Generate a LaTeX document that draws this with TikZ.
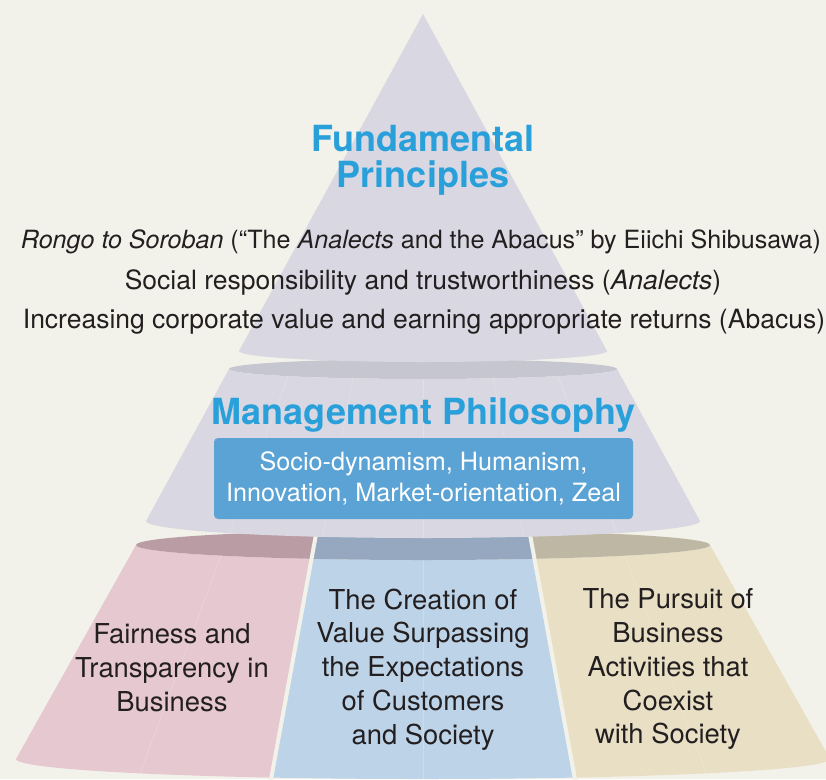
\documentclass[tikz,border=0pt]{standalone}
\usepackage{fontspec}
\setmainfont{TeX Gyre Heros}
\definecolor{bgc}{HTML}{F2F2EA}
\definecolor{conec}{HTML}{D9D8E2}
\definecolor{conedark}{HTML}{C6C6D0}
\definecolor{pinkc}{HTML}{E6C8D0}
\definecolor{pinkdark}{HTML}{BA9DA4}
\definecolor{bluec}{HTML}{BDD3E8}
\definecolor{bluedark}{HTML}{95A8C0}
\definecolor{beigec}{HTML}{E8DFC5}
\definecolor{beigedark}{HTML}{BEB7A3}
\definecolor{boxc}{HTML}{5BA3D5}
\definecolor{titlec}{HTML}{2AA0DA}
\definecolor{textc}{HTML}{231F20}
\begin{document}
\begin{tikzpicture}[x=1pt,y=-1pt,
  ray/.style={draw=white,opacity=0.22,line width=0.6pt},
  gapline/.style={draw=bgc,line width=4pt},
  titlest/.style={text=titlec,inner sep=0pt,font=\fontsize{36}{36}\selectfont\bfseries},
  linest/.style={text=textc,inner sep=0pt,font=\fontsize{26.5}{30}\selectfont},
  botst/.style={text=textc,inner sep=0pt,align=center,font=\fontsize{27.4}{33.8}\selectfont},
  boxst/.style={fill=boxc,rounded corners=4pt,minimum width=419pt,minimum height=81pt,
    inner sep=0pt,text=white,align=center,font=\fontsize{25.2}{31}\selectfont}]
\useasboundingbox (0,0) rectangle (826,779);
\fill[bgc] (0,0) rectangle (826,779);
\coordinate (apex) at (423,14);
% ---------- bottom section ----------
\begin{scope}
  \clip (0,400) -- (340.8,400) -- (267.2,800) -- (0,800) -- cycle;
  \fill[pinkc] (136,545) -- (16,759) arc[start angle=180,end angle=0,x radius=407,y radius=20] -- (710,545) arc[start angle=0,end angle=180,x radius=287,y radius=15] -- cycle;
  \fill[pinkdark] (423,545) ellipse[x radius=287,y radius=15];
\end{scope}
\begin{scope}
  \clip (340.8,400) -- (505.2,400) -- (578.8,800) -- (267.2,800) -- cycle;
  \fill[bluec] (136,545) -- (16,759) arc[start angle=180,end angle=0,x radius=407,y radius=20] -- (710,545) arc[start angle=0,end angle=180,x radius=287,y radius=15] -- cycle;
  \fill[bluedark] (423,545) ellipse[x radius=287,y radius=15];
\end{scope}
\begin{scope}
  \clip (505.2,400) -- (900,400) -- (900,800) -- (578.8,800) -- cycle;
  \fill[beigec] (136,545) -- (16,759) arc[start angle=180,end angle=0,x radius=407,y radius=20] -- (710,545) arc[start angle=0,end angle=180,x radius=287,y radius=15] -- cycle;
  \fill[beigedark] (423,545) ellipse[x radius=287,y radius=15];
\end{scope}
\begin{scope}
  \clip (136,545) -- (16,759) arc[start angle=180,end angle=0,x radius=407,y radius=20] -- (710,545) arc[start angle=0,end angle=180,x radius=287,y radius=15] -- cycle;
  \coordinate (r1) at (130,800);
  \coordinate (r3) at (423,800);
  \coordinate (r5) at (716,800);
  \draw[ray] (apex) -- (r1);
  \draw[ray] (apex) -- (r3);
  \draw[ray] (apex) -- (r5);
\end{scope}
\coordinate (g1a) at (317.2,528);
\coordinate (g1b) at (267.2,800);
\coordinate (g2a) at (528.8,528);
\coordinate (g2b) at (578.8,800);
\draw[gapline] (g1a) -- (g1b);
\draw[gapline] (g2a) -- (g2b);
% ---------- middle section ----------
\fill[conedark] (423,369) ellipse[x radius=194,y radius=10];
\fill[conec] (229,369) -- (146,521) arc[start angle=180,end angle=0,x radius=277,y radius=17] -- (617,369) arc[start angle=0,end angle=180,x radius=194,y radius=10] -- cycle;
\begin{scope}
  \clip (229,369) -- (146,521) arc[start angle=180,end angle=0,x radius=277,y radius=17] -- (617,369) arc[start angle=0,end angle=180,x radius=194,y radius=10] -- cycle;
  \coordinate (m1) at (130,800);
  \coordinate (m2) at (272,800);
  \coordinate (m3) at (423,800);
  \coordinate (m4) at (574,800);
  \coordinate (m5) at (716,800);
  \draw[ray] (apex) -- (m1);
  \draw[ray] (apex) -- (m2);
  \draw[ray] (apex) -- (m3);
  \draw[ray] (apex) -- (m4);
  \draw[ray] (apex) -- (m5);
\end{scope}
% ---------- top section ----------
\fill[conec] (apex) -- (607,351) arc[start angle=0,end angle=180,x radius=184,y radius=11] -- cycle;
% ---------- texts ----------
\node[titlest,anchor=north,align=center] (fp) at (423,125) {Fundamental\\Principles};
\node[linest,anchor=base,font=\fontsize{25.1}{30}\selectfont] (l1) at (421,248) {\textit{Rongo to Soroban} (“The \textit{Analects} and the Abacus” by Eiichi Shibusawa)};
\node[linest,anchor=base] (l2) at (423,289) {Social responsibility and trustworthiness (\textit{Analects})};
\node[linest,anchor=base] (l3) at (424,328) {Increasing corporate value and earning appropriate returns (Abacus)};
\node[titlest,anchor=base] (mp) at (423.5,424) {Management Philosophy};
\node[boxst] (box) at (423.5,478.5) {Socio-dynamism, Humanism,\\Innovation, Market-orientation, Zeal};
\node[botst,anchor=north] (fair) at (172,623.5) {Fairness and\\Transparency in\\Business};
\node[botst,anchor=north] (value) at (423,588.5) {The Creation of\\Value Surpassing\\the Expectations\\of Customers\\and Society};
\node[botst,anchor=north] (coexist) at (668,588.5) {The Pursuit of\\Business\\Activities that\\Coexist\\with Society};
\end{tikzpicture}
\end{document}
